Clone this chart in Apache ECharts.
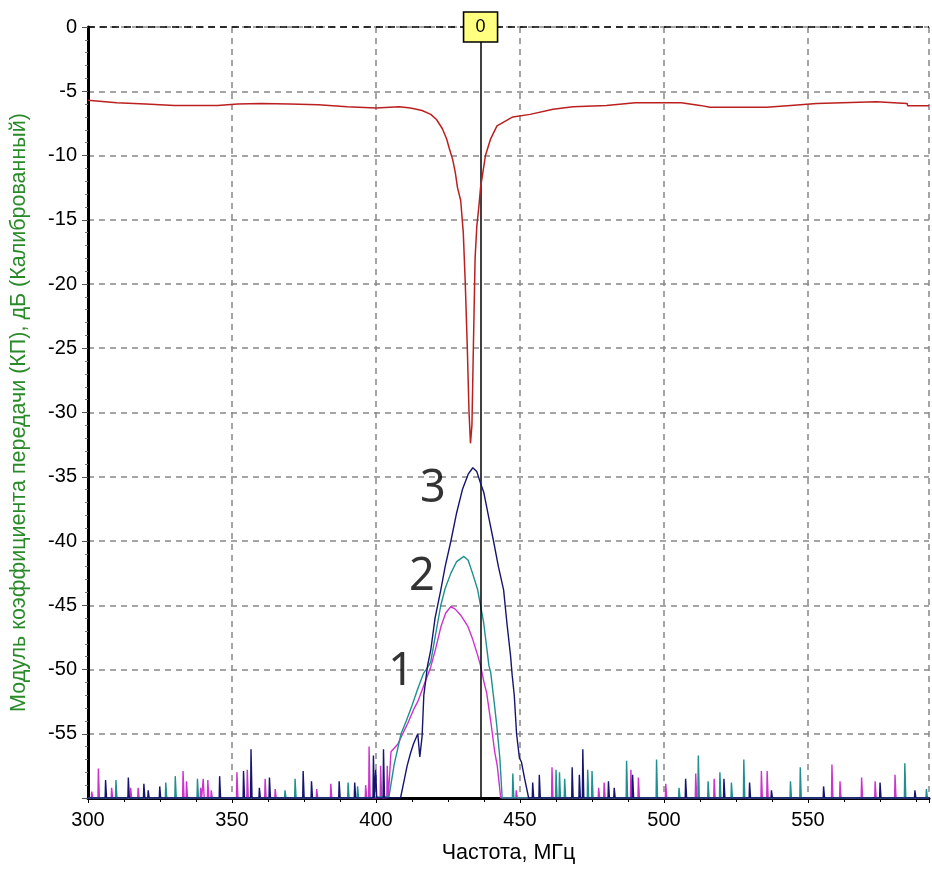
<!DOCTYPE html>
<html>
<head>
<meta charset="utf-8">
<script src="https://cdn.jsdelivr.net/npm/echarts@6/dist/echarts.min.js"></script>
<style>
  html, body { margin: 0; padding: 0; background: #fff; }
  #chart { width: 932px; height: 869px; }
</style>
</head>
<body>
<div id="chart"></div>
<script>
// x ticks / y ticks
var xTicks = [300, 350, 400, 450, 500, 550];
var yTicks = [0, -5, -10, -15, -20, -25, -30, -35, -40, -45, -50, -55];
var floorDb = -60;
var markerFreq = 436.3;

// red curve: |S21| reference trace [MHz, dB]
var redCurve = [
  [300, -5.7], [305, -5.8], [310, -5.9], [320, -6.0], [330, -6.1], [345, -6.1],
  [352, -6.0], [360, -5.95], [370, -6.0], [380, -6.05], [390, -6.2], [400, -6.3],
  [408, -6.2], [412, -6.3], [416, -6.5], [419, -6.8], [421, -7.2], [423, -7.9],
  [424.5, -8.7], [425.5, -9.5], [426.6, -10.3], [427.5, -11.3], [428.3, -12.5],
  [429.4, -13.5], [430.3, -16], [431, -20], [431.7, -25], [432.3, -30], [432.8, -32.4],
  [433.3, -31], [433.8, -25], [434.4, -18], [435, -15.5], [435.7, -14], [436.3, -12.5],
  [438, -10], [439.8, -8.7], [442, -7.7], [447.5, -7.0], [453.5, -6.8], [461.5, -6.4],
  [468.4, -6.2], [480, -6.1], [490, -5.9], [506, -5.9], [512.5, -6.1], [516, -6.25],
  [535.6, -6.25], [536, -6.1], [544, -6.1], [544.3, -5.95], [553, -5.95], [553.3, -5.82],
  [573.7, -5.82], [574, -5.95], [584.4, -5.95], [584.6, -6.13], [592, -6.13]
];

// trace 1 (magenta)
var curve1 = [
  [405.2, -56.4], [407.6, -55.8], [409.7, -54.8], [411, -54.2], [413.3, -53], [414.5, -52.5],
  [416.5, -51.3], [419, -49.8], [420.8, -48.3], [422.5, -46.7], [424.2, -45.6], [426, -45.1],
  [427.5, -45.3], [429.5, -45.8], [431.8, -46.6], [433.5, -47.6], [435.3, -48.9], [436.3, -49.7],
  [437.5, -51], [438.4, -51.8], [440, -54.3], [441.2, -56.4], [442.1, -57.5], [443.3, -60]
];
var noise1 = [
  [301.4, -59.5], [303.7, -57.7], [308.3, -59.2], [314.9, -59.2], [317.5, -59.2], [333.1, -57.9],
  [334.3, -58.7], [339.2, -59.2], [340.1, -58.5], [341.7, -58.6], [342.9, -59.4], [351.8, -58.0],
  [355.4, -57.8], [361.6, -58.5], [365.1, -59.3], [379.5, -59.3], [384.4, -58.9], [396.5, -59],
  [397.7, -56.0], [401.7, -57.5], [404, -57.5],
  [448.8, -59.4], [461.2, -57.6], [477.4, -59.2], [479.3, -58.8], [488.6, -57.8], [491.2, -58.4],
  [500.7, -58.9], [511.1, -58.1], [517.5, -58.5], [533.9, -57.9], [535.9, -57.9], [558.4, -57.4],
  [561.2, -58.7], [568.7, -58.4], [573.4, -58.7], [580.3, -58.2]
];

// trace 2 (teal)
var curve2 = [
  [404.5, -59.9], [406.3, -57.4], [407.5, -56.2], [408.7, -55], [410.5, -54], [412.5, -52.8],
  [414.5, -51.5], [416.5, -50.3], [418.3, -49.7], [419, -49.4], [420.5, -47.5], [422.5, -45],
  [424, -43.7], [426, -42.5], [428, -41.6], [430.5, -41.2], [432, -41.5], [433.5, -42.5],
  [435.3, -43.8], [437.4, -46.4], [439.2, -49.7], [439.8, -50.2], [441, -52.5], [441.9, -54.3],
  [443, -56.9], [443.8, -60]
];
var noise2 = [
  [309.8, -58.6], [327.1, -58.8], [330.4, -58.3], [338.1, -58.5], [368.5, -59.4], [372, -58.5],
  [390.4, -58.8], [393.7, -59.1],
  [447.6, -58.1], [462.6, -57.8], [463.8, -58], [465.6, -58.5], [473.6, -57.8], [475.1, -57.9],
  [487.1, -57.1], [497.5, -57.0], [505.3, -59.2], [512, -56.7], [515.4, -58.7], [519.5, -58.0],
  [523.5, -58.8], [527.8, -57.0], [544, -58.7], [547.4, -57.6], [583.7, -57.3], [591.2, -59.3]
];

// trace 3 (navy)
var curve3 = [
  [408.5, -60], [409.7, -58.7], [410.8, -57.5], [412, -56.5], [413, -55.8], [414.5, -55],
  [415.2, -56.8], [416, -55.2], [416.6, -52], [417.9, -49.7], [419, -48.5], [420.5, -46],
  [422.5, -43.8], [424, -42], [426, -40], [428, -37.8], [430, -36], [432, -34.8], [433.6, -34.3],
  [435, -34.6], [436.3, -35.5], [437.4, -36.2], [439, -38], [440.8, -40], [442.5, -42],
  [444.3, -43.8], [445.5, -46.5], [446.7, -48.9], [447.3, -50.5], [448, -52], [448.8, -55],
  [449.8, -56.9], [450.5, -57.2], [451.6, -58.5], [453, -60]
];
var noise3 = [
  [306.2, -58.6], [314.1, -58.4], [319.5, -58.9], [321, -59.4], [325, -59.1], [345.8, -58.3],
  [354.1, -57.9], [356.7, -56.2], [359.6, -59.2], [363.1, -58.4], [374.8, -57.9], [377.7, -58.7],
  [387.3, -58.7], [392.7, -58.8], [399.2, -56.7], [400, -57.8], [402.7, -56.2],
  [454.5, -58.8], [456.8, -58.2], [468.2, -57.6], [470.7, -58.2], [471.9, -56.2], [480.8, -58.7],
  [482.8, -59.2], [489.2, -58.2], [507.6, -58.5], [520.9, -58.5], [529.8, -58.8], [537.4, -59.4],
  [555.5, -59.1], [575.1, -58.8], [587.2, -59.4]
];

// trace number annotations
var traceLabels = [
  { name: '1', value: [408.7, -50.2] },
  { name: '2', value: [415.9, -42.8] },
  { name: '3', value: [419.7, -36.0] }
];

function buildTrace(curve, spikes) {
  var pts = [[300, floorDb], [592, floorDb]];
  spikes.forEach(function (s) {
    pts.push([s[0] - 0.25, floorDb], [s[0] - 0.1, s[1]], [s[0] + 0.1, s[1]], [s[0] + 0.25, floorDb]);
  });
  curve.forEach(function (p) { pts.push(p); });
  pts.sort(function (a, b) { return a[0] - b[0]; });
  return pts;
}

var chart = echarts.init(document.getElementById('chart'));
var font = 'Liberation Sans, Arial, sans-serif';

chart.setOption({
  animation: false,
  backgroundColor: '#fff',
  grid: { left: 86, right: 2, top: 27, bottom: 63 },
  xAxis: {
    type: 'value',
    min: 300, max: 592, interval: 50,
    name: 'Частота, МГц',
    nameLocation: 'middle',
    nameGap: 44,
    nameTextStyle: { color: '#000', fontSize: 21.5, fontFamily: font },
    axisLine: { show: true, onZero: false, lineStyle: { color: '#000', width: 3 } },
    axisTick: { show: true, length: 5, lineStyle: { color: '#000', width: 1 } },
    minorTick: { show: true, splitNumber: 4, length: 4, lineStyle: { color: '#000' } },
    axisLabel: {
      color: '#000', fontSize: 20, fontFamily: font, margin: 12,
      formatter: function (v) { return xTicks.indexOf(v) >= 0 ? String(v) : ''; }
    },
    splitLine: { show: true, lineStyle: { color: '#888', type: [6, 5], width: 1.5 } }
  },
  yAxis: {
    type: 'value',
    min: -60, max: 0, interval: 5,
    name: 'Модуль коэффициента передачи (КП), дБ (Калиброванный)',
    nameLocation: 'middle',
    nameGap: 58,
    nameTextStyle: { color: '#2a8a2a', fontSize: 21.5, fontFamily: font },
    axisLine: { show: true, onZero: false, lineStyle: { color: '#000', width: 3 } },
    axisTick: { show: true, length: 6, lineStyle: { color: '#555', width: 1 } },
    minorTick: { show: true, splitNumber: 5, length: 3, lineStyle: { color: '#777' } },
    axisLabel: {
      color: '#000', fontSize: 20, fontFamily: font, margin: 11,
      formatter: function (v) { return yTicks.indexOf(v) >= 0 ? String(v) : ''; }
    },
    splitLine: { show: true, lineStyle: { color: '#888', type: [6, 5], width: 1.5 } }
  },
  series: [
    {
      name: '1', type: 'line', data: buildTrace(curve1, noise1),
      showSymbol: false, lineStyle: { color: '#cc33cc', width: 1.4 }, z: 3
    },
    {
      name: '2', type: 'line', data: buildTrace(curve2, noise2),
      showSymbol: false, lineStyle: { color: '#1f8f8f', width: 1.4 }, z: 4
    },
    {
      name: '3', type: 'line', data: buildTrace(curve3, noise3),
      showSymbol: false, lineStyle: { color: '#151570', width: 1.4 }, z: 5
    },
    {
      name: 'ref', type: 'line', data: redCurve,
      showSymbol: false, lineStyle: { color: '#bb2020', width: 1.5 }, z: 6,
      markLine: {
        silent: true, symbol: 'none', label: { show: false },
        lineStyle: { color: '#000', type: [7, 5], width: 1.5 },
        data: [{ yAxis: 0 }]
      }
    },
    {
      name: 'marker', type: 'line', data: [], z: 8,
      markLine: {
        silent: true, symbol: 'none', label: { show: false },
        lineStyle: { color: '#000', type: 'solid', width: 1.5 },
        data: [{ xAxis: markerFreq }]
      },
      markPoint: {
        silent: true,
        symbol: 'rect', symbolSize: [34, 30],
        itemStyle: { color: '#ffff80', borderColor: '#000', borderWidth: 1.5 },
        label: { show: true, color: '#000', fontSize: 18, fontFamily: font, formatter: '0' },
        data: [{ coord: [markerFreq, 0] }]
      }
    },
    {
      name: 'labels', type: 'scatter', data: traceLabels, symbolSize: 0, z: 9,
      label: {
        show: true, position: 'inside', formatter: '{b}',
        color: '#000', fontSize: 45, fontFamily: 'Noto Sans, Open Sans, sans-serif'
      }
    }
  ]
});
</script>
</body>
</html>
